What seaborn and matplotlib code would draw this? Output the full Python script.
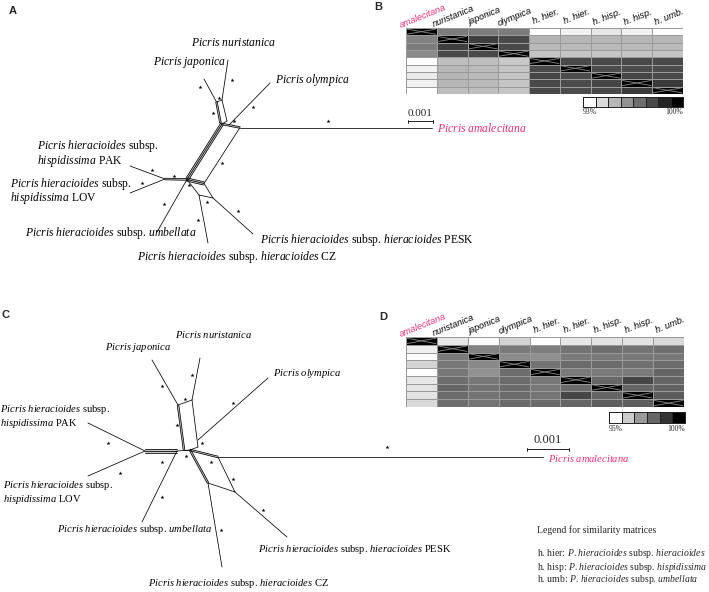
import numpy as np
import matplotlib
matplotlib.use("Agg")
import matplotlib.pyplot as plt
import matplotlib.colors as mcolors
import seaborn as sns

# ------------------------------------------------------------------ data
MATRIX_LABELS = ["amalecitana", "nuristanica", "japonica", "olympica",
                 "h. hier.", "h. hier.", "h. hisp.", "h. hisp.", "h. umb."]

# similarity (%) matrix, panel B (scale 93-100 %)
SIM_B = [
    [100.0, 96.6, 96.6, 96.6, 93.0, 93.4, 93.7, 93.4, 93.0],
    [96.4, 100.0, 98.3, 98.0, 95.1, 95.0, 95.0, 95.0, 95.0],
    [96.6, 98.3, 100.0, 98.0, 94.9, 94.9, 94.9, 94.9, 94.9],
    [96.2, 98.0, 98.0, 100.0, 94.6, 94.6, 94.6, 94.6, 94.6],
    [93.0, 94.8, 94.8, 94.5, 100.0, 98.0, 98.0, 98.0, 98.0],
    [93.4, 95.0, 94.9, 94.6, 98.0, 100.0, 97.9, 97.9, 97.9],
    [93.6, 95.0, 94.9, 94.6, 98.1, 97.9, 100.0, 98.1, 98.0],
    [93.4, 95.0, 94.9, 94.6, 98.0, 97.9, 98.1, 100.0, 98.4],
    [93.0, 94.8, 94.8, 94.6, 98.0, 97.9, 98.0, 98.4, 100.0],
]

# similarity (%) matrix, panel D (scale 95-100 %)
SIM_D = [
    [100.0, 95.45, 95.1, 95.85, 95.0, 95.5, 95.55, 95.55, 95.75],
    [95.35, 100.0, 97.45, 97.6, 97.55, 97.75, 97.85, 97.75, 97.8],
    [95.1, 97.6, 100.0, 97.3, 97.2, 97.6, 97.6, 97.65, 97.65],
    [95.85, 97.65, 97.3, 100.0, 97.75, 97.9, 97.9, 97.8, 97.9],
    [95.0, 97.65, 97.15, 97.85, 100.0, 97.6, 97.6, 97.6, 98.0],
    [95.5, 97.85, 97.65, 97.9, 97.65, 100.0, 97.95, 98.6, 98.0],
    [95.55, 98.0, 97.75, 97.9, 97.65, 97.9, 100.0, 98.0, 98.1],
    [95.55, 97.9, 97.75, 97.9, 97.7, 98.6, 98.0, 100.0, 98.2],
    [95.75, 97.85, 97.75, 97.9, 97.9, 98.0, 98.15, 98.15, 100.0],
]

SCALE_B_LEVELS = [93, 94, 95, 96, 97, 98, 99, 100]
SCALE_D_LEVELS = [95, 96, 97, 98, 99, 100]

# split network A (node layout, in pixel-like units; 0.001 subst./site = 25 units)
A_UNITS_PER_001 = 25
A_NODES = {
    "jap": (204, 79), "nur": (228, 60), "jt": (216.5, 102), "nt": (222, 100),
    "jb": (220.5, 123), "nb": (227, 121), "hub": (222, 124),
    "oly": (270, 83), "olyb": (229, 125), "R": (240, 127.5), "ama": (432, 127.5),
    "L": (187, 179.5), "LR": (204, 183.5), "pl": (165, 179), "pak": (130, 166),
    "lov": (130, 193), "umb": (157, 232), "c2": (199, 195), "p2": (213, 198),
    "cz": (208, 243), "pesk": (253, 234),
}
A_EDGES = [
    ("jap", "jt", 1), ("nur", "nt", 1), ("jt", "nt", 1), ("jt", "jb", 2),
    ("nt", "nb", 1), ("jb", "hub", 1), ("nb", "hub", 1), ("oly", "olyb", 1),
    ("hub", "R", 2), ("R", "ama", 1), ("hub", "L", 3), ("R", "LR", 1),
    ("L", "LR", 3), ("L", "pl", 2), ("pl", "pak", 1), ("pl", "lov", 1),
    ("L", "umb", 1), ("L", "c2", 1), ("c2", "p2", 1), ("LR", "p2", 1),
    ("p2", "pesk", 1), ("c2", "cz", 1),
]
A_STARS_X = [200, 232, 219, 213, 253, 234, 328, 222, 152, 142, 174, 189, 164, 207, 198, 238]
A_STARS_Y = [87, 80, 98, 113, 107, 121, 121, 163, 170, 183, 176, 185, 204, 202, 220, 211]

# split network C (0.001 subst./site = 42 units)
C_UNITS_PER_001 = 42
C_NODES = {
    "jap": (152, 360), "nur": (200, 358), "jt": (178, 405), "nt": (192, 400),
    "jb": (184, 450), "nb": (198, 447), "hub": (190, 450),
    "oly": (268, 378), "olyb": (198, 440),
    "pl": (145, 451), "plr": (177, 451), "pak": (88, 423), "lov": (88, 476),
    "umb": (142, 522), "R": (218, 457), "ama": (543, 457),
    "c2": (208, 483), "p2": (235, 492), "cz": (222, 567), "pesk": (287, 537),
}
C_EDGES = [
    ("jap", "jt", 1), ("nur", "nt", 1), ("jt", "nt", 1), ("jt", "jb", 2),
    ("nt", "nb", 1), ("jb", "hub", 1), ("nb", "hub", 1), ("oly", "olyb", 1),
    ("pak", "pl", 1), ("lov", "pl", 1), ("pl", "plr", 3), ("plr", "hub", 1),
    ("plr", "umb", 1), ("hub", "R", 2), ("R", "ama", 1), ("hub", "c2", 2),
    ("R", "p2", 1), ("c2", "p2", 1), ("c2", "cz", 1), ("p2", "pesk", 1),
]
C_STARS_X = [162, 192, 185, 177, 233, 202, 108, 162, 120, 186, 211, 233, 162, 263, 221, 387]
C_STARS_Y = [386, 375, 399, 425, 403, 443, 443, 462, 473, 456, 462, 479, 497, 510, 530, 447]

PINK = "#e3307a"

# ------------------------------------------------------------------ style
sns.set_style("white")
plt.rcParams["font.family"] = ["Liberation Serif", "DejaVu Serif"]
plt.rcParams["mathtext.fontset"] = "custom"
plt.rcParams["mathtext.it"] = "Liberation Serif:italic"
plt.rcParams["mathtext.rm"] = "Liberation Serif"
plt.rcParams["mathtext.bf"] = "Liberation Serif:bold"

W, H = 709, 592
fig = plt.figure(figsize=(W / 100, H / 100), dpi=100)
fig.patch.set_facecolor("white")


def px_axes(x0, y0, x1, y1):
    return fig.add_axes([x0 / W, 1 - y1 / H, (x1 - x0) / W, (y1 - y0) / H])


net = fig.add_axes([0, 0, 1, 1])
net.set_xlim(0, W)
net.set_ylim(H, 0)
net.axis("off")


def draw_network(nodes, edges, sx, sy):
    for a, b, n in edges:
        p = np.array(nodes[a], float)
        q = np.array(nodes[b], float)
        d = q - p
        nrm = np.array([-d[1], d[0]]) / (np.hypot(*d) + 1e-9)
        offs = (np.arange(n) - (n - 1) / 2) * 1.6
        if n > 1:
            o1, o2 = offs[0], offs[-1]
            poly = np.array([p + nrm * o1, q + nrm * o1, q + nrm * o2, p + nrm * o2])
            net.fill(poly[:, 0], poly[:, 1], color="#c8c8c8", lw=0, zorder=1)
        for o in offs:
            net.plot([p[0] + nrm[0] * o, q[0] + nrm[0] * o],
                     [p[1] + nrm[1] * o, q[1] + nrm[1] * o],
                     color="black", lw=0.55, solid_capstyle="round", zorder=2)
    net.scatter(sx, sy, marker="*", s=9, color="black", linewidths=0, zorder=3)


draw_network(A_NODES, A_EDGES, A_STARS_X, A_STARS_Y)
draw_network(C_NODES, C_EDGES, C_STARS_X, C_STARS_Y)


def lab(x, y, s, size, color="black"):
    net.text(x, y, s, fontsize=size, ha="left", va="center", color=color,
             family="Liberation Serif")


def IT(s):
    # italic words; a trailing period is kept outside mathtext to avoid extra spacing
    out = []
    for w in s.split(" "):
        if w.endswith("."):
            out.append(r"$\mathit{" + w[:-1] + "}$.")
        else:
            out.append(r"$\mathit{" + w + "}$")
    return " ".join(out)


PH = IT("Picris hieracioides") + " subsp."

# panel A labels
fa = 8.4
lab(191, 43, IT("Picris nuristanica"), fa)
lab(153, 63, IT("Picris japonica"), fa)
lab(275, 80, IT("Picris olympica"), fa)
lab(37, 146, PH, fa)
lab(37, 161, IT("hispidissima") + " PAK", fa)
lab(10, 183.5, PH, fa)
lab(10, 198.5, IT("hispidissima") + " LOV", fa)
lab(25, 233, PH + " " + IT("umbellata"), fa)
lab(137, 257, PH + " " + IT("hieracioides") + " CZ", fa)
lab(260, 240, PH + " " + IT("hieracioides") + " PESK", fa)
lab(437, 129, IT("Picris amalecitana"), fa, PINK)

# panel C labels
fc = 7.6
lab(175, 334, IT("Picris nuristanica"), fc)
lab(105, 348, IT("Picris japonica"), fc)
lab(273, 374, IT("Picris olympica"), fc)
lab(0, 409, PH, fc)
lab(0, 423, IT("hispidissima") + " PAK", fc)
lab(3, 485, PH, fc)
lab(3, 500, IT("hispidissima") + " LOV", fc)
lab(57, 530, PH + " " + IT("umbellata"), fc)
lab(148, 584, PH + " " + IT("hieracioides") + " CZ", fc)
lab(258, 549, PH + " " + IT("hieracioides") + " PESK", fc)
lab(548, 458, IT("Picris amalecitana"), fc, PINK)

# scale bars
for x0, y0, n_units, fs in [(408, 121, A_UNITS_PER_001, 8), (527, 449, C_UNITS_PER_001, 9)]:
    x1 = x0 + n_units
    net.plot([x0, x1], [y0, y0], color="black", lw=0.6)
    net.plot([x0, x0], [y0 - 1.5, y0 + 1.5], color="black", lw=0.6)
    net.plot([x1, x1], [y0 - 1.5, y0 + 1.5], color="black", lw=0.6)
    net.text((x0 + x1) / 2, y0 - 3, "0.001", fontsize=fs, ha="center", va="bottom")

# panel letters
for s, x, y in [("A", 13, 11), ("B", 378, 7), ("C", 5, 315), ("D", 383, 317)]:
    net.text(x, y, s, fontsize=8, fontweight="bold", family="Liberation Sans",
             ha="center", va="center")

# legend text
fl = 7.0
net.text(537, 530, "Legend for similarity matrices", fontsize=fl, va="center")
net.text(537, 554, "h. hier: " + IT("P. hieracioides") + " subsp. " + IT("hieracioides"),
         fontsize=fl, va="center")
net.text(537, 567, "h. hisp: " + IT("P. hieracioides") + " subsp. " + IT("hispidissima"),
         fontsize=fl, va="center")
net.text(537, 579, "h. umb: " + IT("P. hieracioides") + " subsp. " + IT("umbellata"),
         fontsize=fl, va="center")

# ------------------------------------------------------------------ heatmaps
gray = mcolors.LinearSegmentedColormap.from_list("wb", ["#ffffff", "#000000"])


def sim_heatmap(box, data, vmin, vmax):
    ax = px_axes(*box)
    arr = np.array(data)
    sns.heatmap(arr, ax=ax, cmap=gray, vmin=vmin, vmax=vmax, cbar=False,
                linewidths=0.5, linecolor="#9a9a9a",
                xticklabels=False, yticklabels=False)
    n = arr.shape[0]
    for i in range(n):
        ax.plot([i + 0.03, i + 0.97], [i + 0.15, i + 0.85], color="#8a8a8a", lw=0.6)
        ax.plot([i + 0.03, i + 0.97], [i + 0.85, i + 0.15], color="#8a8a8a", lw=0.6)
    for j, t in enumerate(MATRIX_LABELS):
        ax.text(j + 0.6, -0.95, t, rotation=22, rotation_mode="anchor",
                ha="center", va="bottom", fontsize=6.6, fontstyle="italic",
                family="Liberation Sans", color=PINK if j == 0 else "black",
                clip_on=False)
    return ax


def scale_heatmap(box, levels, lo_txt, hi_txt):
    ax = px_axes(*box)
    sns.heatmap([levels], ax=ax, cmap=gray, vmin=levels[0], vmax=levels[-1],
                cbar=False, linewidths=0.7, linecolor="#222222",
                xticklabels=False, yticklabels=False)
    for sp in ax.spines.values():
        sp.set_visible(True)
        sp.set_linewidth(0.7)
        sp.set_color("#222222")
    ax.text(0, 1.55, lo_txt, fontsize=5.5, ha="left", va="center", clip_on=False)
    ax.text(len(levels), 1.55, hi_txt, fontsize=5.5, ha="right", va="center", clip_on=False)


sim_heatmap((406, 28, 683, 94), SIM_B, 93, 100)
scale_heatmap((583, 97, 683, 107), SCALE_B_LEVELS, "93%", "100%")
sim_heatmap((406, 337, 684, 407), SIM_D, 95, 100)
scale_heatmap((609, 412, 685, 423), SCALE_D_LEVELS, "95%", "100%")

fig.savefig("out.png", dpi=100, facecolor="white")
